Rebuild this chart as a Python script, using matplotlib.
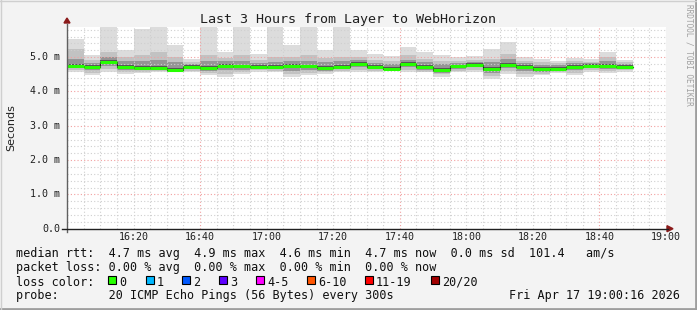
import numpy as np
import matplotlib
matplotlib.use("Agg")
import matplotlib.pyplot as plt
from matplotlib.patches import Rectangle
from matplotlib.lines import Line2D

# minutes after 16:00, one sample every 5 minutes
times = list(range(0, 170, 5))

# ping times in ms
med = [4.75, 4.72, 4.86, 4.72, 4.68, 4.68, 4.63, 4.72, 4.69, 4.75, 4.73, 4.72,
       4.72, 4.75, 4.73, 4.68, 4.72, 4.80, 4.72, 4.67, 4.80, 4.72, 4.63, 4.73,
       4.78, 4.66, 4.78, 4.72, 4.65, 4.65, 4.72, 4.75, 4.75, 4.72]
p_max = [5.54, 5.07, 5.88, 5.21, 5.82, 5.88, 5.36, 4.96, 5.88, 5.15, 5.88, 5.10,
         5.88, 5.36, 5.88, 5.20, 5.88, 5.20, 5.08, 5.03, 5.30, 5.15, 5.05, 5.00,
         5.03, 5.25, 5.44, 5.01, 4.96, 4.88, 4.98, 4.94, 5.15, 4.93]
p90 = [5.23, 4.92, 5.15, 5.00, 5.05, 5.15, 5.02, 4.85, 5.05, 4.98, 5.05, 4.92,
       5.00, 5.00, 5.05, 4.98, 5.02, 5.00, 4.92, 4.90, 5.05, 4.95, 4.90, 4.88,
       4.92, 4.95, 5.10, 4.88, 4.85, 4.82, 4.88, 4.86, 5.00, 4.86]
p75 = [4.95, 4.84, 5.00, 4.88, 4.88, 4.92, 4.85, 4.80, 4.90, 4.88, 4.90, 4.83,
       4.85, 4.90, 4.88, 4.85, 4.88, 4.92, 4.83, 4.80, 4.93, 4.85, 4.80, 4.82,
       4.86, 4.85, 4.95, 4.82, 4.78, 4.76, 4.82, 4.82, 4.88, 4.80]
p25 = [4.69, 4.62, 4.74, 4.64, 4.62, 4.62, 4.60, 4.66, 4.60, 4.62, 4.64, 4.66,
       4.65, 4.60, 4.62, 4.60, 4.66, 4.72, 4.66, 4.65, 4.72, 4.62, 4.55, 4.66,
       4.70, 4.55, 4.68, 4.60, 4.58, 4.60, 4.62, 4.68, 4.66, 4.67]
p10 = [4.63, 4.55, 4.65, 4.58, 4.58, 4.60, 4.58, 4.60, 4.53, 4.50, 4.58, 4.62,
       4.60, 4.50, 4.55, 4.56, 4.60, 4.63, 4.60, 4.63, 4.62, 4.58, 4.50, 4.60,
       4.62, 4.45, 4.60, 4.50, 4.52, 4.58, 4.55, 4.62, 4.60, 4.62]
p_min = [4.57, 4.47, 4.57, 4.52, 4.55, 4.57, 4.57, 4.57, 4.47, 4.42, 4.52, 4.57,
         4.57, 4.42, 4.47, 4.52, 4.57, 4.57, 4.57, 4.62, 4.57, 4.57, 4.42, 4.57,
         4.57, 4.37, 4.52, 4.42, 4.47, 4.55, 4.47, 4.57, 4.55, 4.57]

x_labels = ["16:20", "16:40", "17:00", "17:20", "17:40", "18:00", "18:20", "18:40", "19:00"]
x_label_pos = [20, 40, 60, 80, 100, 120, 140, 160, 180]
y_labels = ["0.0", "1.0 m", "2.0 m", "3.0 m", "4.0 m", "5.0 m"]
y_label_pos = [0, 1, 2, 3, 4, 5]

loss_labels = ["0", "1", "2", "3", "4-5", "6-10", "11-19", "20/20"]
loss_colors = ["#26ff00", "#00b8ff", "#0059ff", "#5e00ff", "#ff00ff", "#ff5500", "#ff0000", "#a10000"]

title = "Last 3 Hours from Layer to WebHorizon"
rtt_line = "median rtt:  4.7 ms avg  4.9 ms max  4.6 ms min  4.7 ms now  0.0 ms sd  101.4   am/s"
loss_line = "packet loss: 0.00 % avg  0.00 % max  0.00 % min  0.00 % now"
probe_line = "probe:       20 ICMP Echo Pings (56 Bytes) every 300s"
date_str = "Fri Apr 17 19:00:16 2026"

W, H = 697, 310
MONO = "DejaVu Sans Mono"

fig = plt.figure(figsize=(W / 100, H / 100), dpi=100, facecolor="#f3f3f3")


def fx(px):
    return px / W


def fy(py):
    return 1 - py / H


# frame shading
fig.add_artist(Line2D([0, 1], [fy(H - 1), fy(H - 1)], color="#9e9e9e", lw=2))
fig.add_artist(Line2D([fx(W - 1), fx(W - 1)], [0, 1], color="#9e9e9e", lw=2))
fig.add_artist(Line2D([0, 1], [fy(0.5), fy(0.5)], color="#cfcfcf", lw=1))
fig.add_artist(Line2D([fx(0.5), fx(0.5)], [0, 1], color="#cfcfcf", lw=1))

x0, x1, y_top, y_bot = 67, 666, 27, 228.7
ax = fig.add_axes([fx(x0), fy(y_bot), (x1 - x0) / W, (y_bot - y_top) / H])
ax.set_facecolor("white")
ax.set_xlim(0, 180)
ax.set_ylim(0, 5.88)
for s in ax.spines.values():
    s.set_visible(False)
ax.set_xticks([])
ax.set_yticks([])

# smoke
shades = [("#dcdcdc", p_min, p_max), ("#c2c2c2", p10, p90), ("#959595", p25, p75)]
for color, lo, hi in shades:
    lo_a, hi_a = np.array(lo), np.array(hi)
    ax.bar(times, hi_a - lo_a, width=5, bottom=lo_a, align="edge",
           color=color, linewidth=0, zorder=2)
med_a = np.array(med)
ax.bar(times, 0.10, width=5, bottom=med_a - 0.05, align="edge",
       color="#555555", linewidth=0, zorder=2)

# grid
dots = (0, (1, 2))
for m in range(5, 181, 5):
    major = m in (40, 100, 160)
    ax.axvline(m, color="#f2a0a0" if major else "#cfcfcf", lw=0.8, ls=dots, zorder=3)
for v in np.arange(0.2, 5.85, 0.2):
    major = abs(v - round(v)) < 1e-6
    ax.axhline(v, color="#f2a0a0" if major else "#cfcfcf", lw=0.8, ls=dots, zorder=3)

# median line
step_x = times + [times[-1] + 5]
ax.step(step_x, med + [med[-1]], where="post", color="#202020", lw=0.8, zorder=4)
ax.hlines(med, times, [t + 5 for t in times], colors="#26ff00", lw=2.2, zorder=5)

# axes with arrows
fig.add_artist(Line2D([fx(x0), fx(x0)], [fy(y_bot + 3), fy(24)], color="#606060", lw=1))
fig.add_artist(Line2D([fx(x0 - 5), fx(668)], [fy(y_bot), fy(y_bot)], color="#202020", lw=1))
fig.add_artist(plt.Polygon([[fx(x0 - 3), fy(23)], [fx(x0 + 3), fy(23)], [fx(x0), fy(18)]],
                           closed=True, color="#8b1a1a", transform=fig.transFigure))
fig.add_artist(plt.Polygon([[fx(667), fy(y_bot - 3)], [fx(667), fy(y_bot + 3)], [fx(673), fy(y_bot)]],
                           closed=True, color="#8b1a1a", transform=fig.transFigure))

# tick labels
for lab, m in zip(x_labels, x_label_pos):
    fig.text(fx(x0 + m / 180 * (x1 - x0)), fy(237.5), lab, ha="center", va="center",
             family=MONO, fontsize=7.2, color="#202020")
for lab, v in zip(y_labels, y_label_pos):
    fig.text(fx(60), fy(y_bot - v * 34.3), lab, ha="right", va="center",
             family=MONO, fontsize=7.2, color="#202020")

fig.text(fx(11), fy(128), "Seconds", rotation=90, ha="center", va="center",
         family="DejaVu Sans", fontsize=8, color="#202020")
fig.text(fx(348), fy(19), title, ha="center", va="center", family=MONO,
         fontsize=9.6, color="#202020")
fig.text(fx(689), fy(4), "RRDTOOL / TOBI OETIKER", rotation=270, ha="center", va="top",
         family=MONO, fontsize=5.6, color="#a0a0a0")

# legend rows
leg_fs = 8.5
fig.text(fx(16), fy(254), rtt_line, ha="left", va="center", family=MONO, fontsize=leg_fs, color="#101010")
fig.text(fx(16), fy(268), loss_line, ha="left", va="center", family=MONO, fontsize=leg_fs, color="#101010")
fig.text(fx(16), fy(282), "loss color:", ha="left", va="center", family=MONO, fontsize=leg_fs, color="#101010")
box_x = [108, 146, 182, 219, 256, 307, 365, 431]
for bx, lab, col in zip(box_x, loss_labels, loss_colors):
    fig.add_artist(Rectangle((fx(bx), fy(283.5)), 7.5 / W, 7.5 / H, facecolor=col,
                             edgecolor="black", lw=0.8, transform=fig.transFigure))
    fig.text(fx(bx + 11), fy(282), lab, ha="left", va="center", family=MONO,
             fontsize=leg_fs, color="#101010")
fig.text(fx(16), fy(296), probe_line, ha="left", va="center", family=MONO, fontsize=leg_fs, color="#101010")
fig.text(fx(680), fy(296), date_str, ha="right", va="center", family=MONO, fontsize=leg_fs, color="#101010")

fig.savefig("out.png", dpi=100, facecolor=fig.get_facecolor())
